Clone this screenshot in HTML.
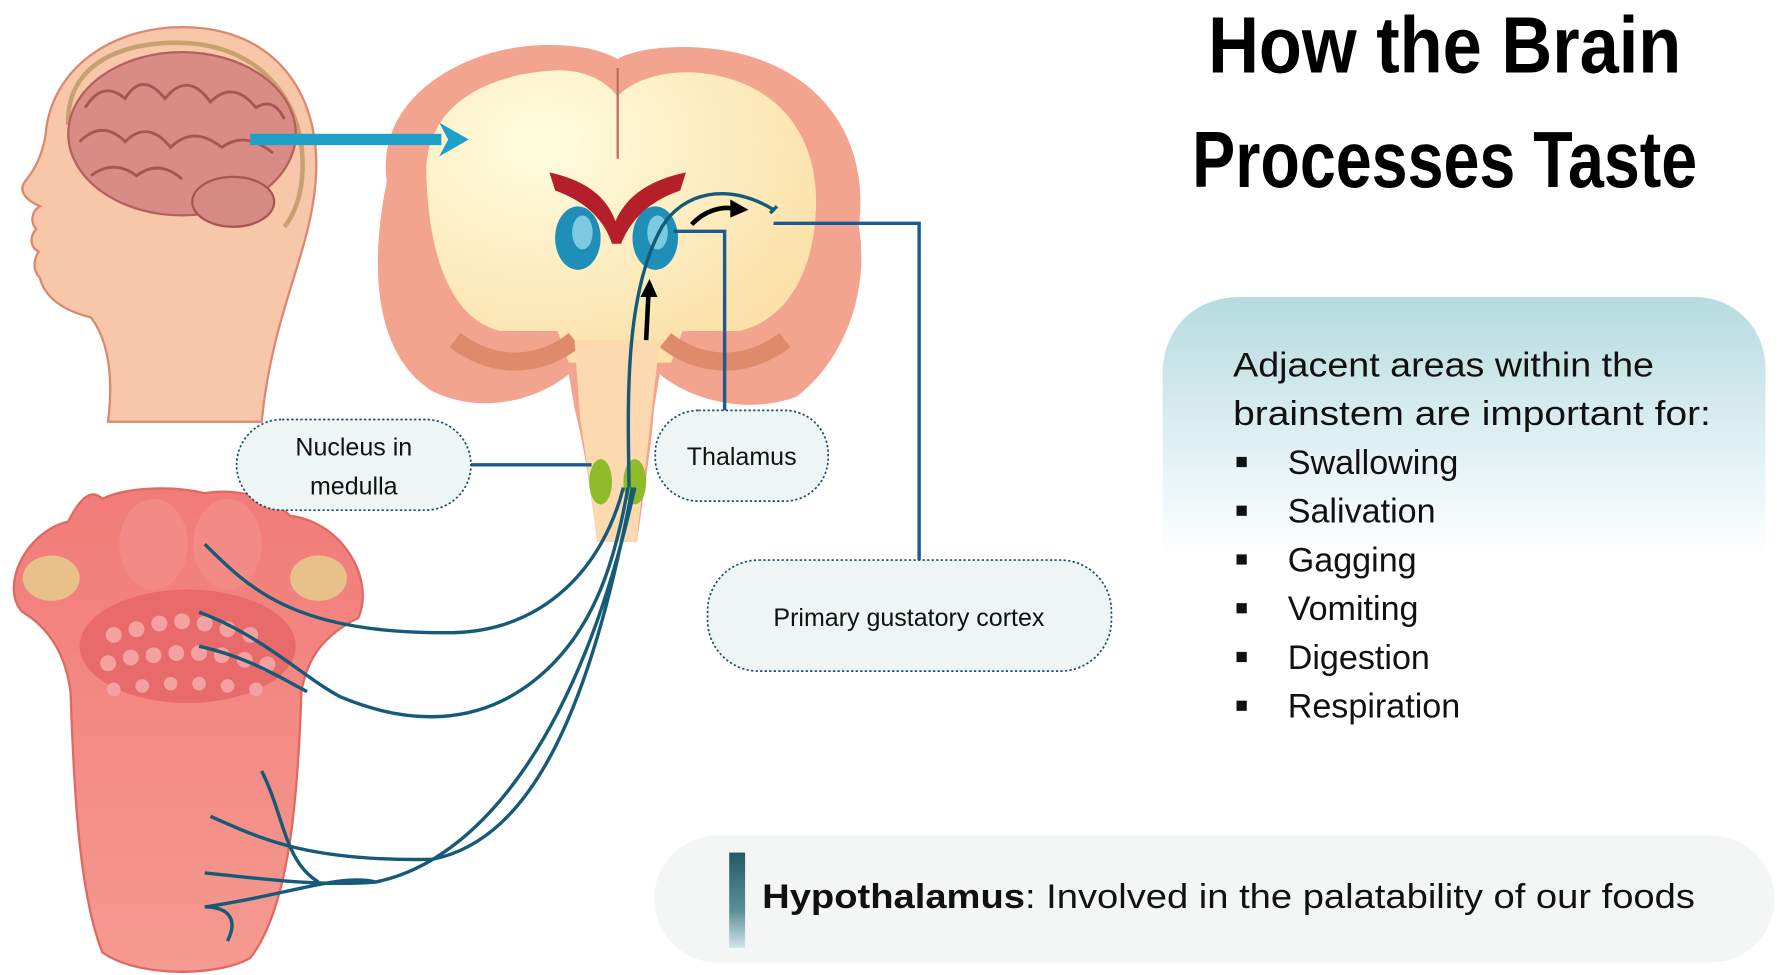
<!DOCTYPE html>
<html><head><meta charset="utf-8"><style>
html,body{margin:0;padding:0;background:#fff;}
svg{display:block}
</style></head><body>
<svg width="1778" height="975" viewBox="0 0 1563 860" preserveAspectRatio="none" xmlns="http://www.w3.org/2000/svg">
<defs>
<linearGradient id="box" x1="0" y1="0" x2="0" y2="1">
<stop offset="0" stop-color="#b6dbe0"/><stop offset="0.55" stop-color="#dff0f2"/><stop offset="1" stop-color="#ffffff"/>
</linearGradient>
<linearGradient id="bar" x1="0" y1="0" x2="0" y2="1">
<stop offset="0" stop-color="#245a66"/><stop offset="0.6" stop-color="#5a8f99"/><stop offset="1" stop-color="#d0e4e8"/>
</linearGradient>
<radialGradient id="core" cx="0.3" cy="0.25" r="0.8">
<stop offset="0" stop-color="#fffde0"/><stop offset="1" stop-color="#fbe0a8"/>
</radialGradient>
<linearGradient id="tong" x1="0" y1="0" x2="0" y2="1">
<stop offset="0" stop-color="#f27b78"/><stop offset="1" stop-color="#f59a90"/>
</linearGradient>
</defs>

<!-- Head -->
<path d="M95,372 C100,330 95,300 80,280 C60,275 40,265 35,245 C28,238 30,228 34,222 C26,218 26,208 32,202 C26,196 28,186 35,182 C22,176 16,168 22,160 C30,150 36,140 40,120 C44,60 100,22 165,24 C240,26 280,80 278,150 C276,220 240,270 230,372 Z" fill="#f8c6a8" stroke="#d9896f" stroke-width="2"/>
<path d="M60,110 C58,55 110,35 165,38 C230,42 268,90 266,150 C265,175 258,190 250,200" fill="none" stroke="#c9a070" stroke-width="4"/>
<ellipse cx="160" cy="118" rx="100" ry="72" fill="#d98b86" stroke="#b4615e" stroke-width="2"/>
<path d="M75,95 q15,-25 35,-8 q15,-25 35,0 q20,-25 40,3 q20,-20 40,5 q15,-10 25,10 M70,125 q20,-20 40,0 q20,-20 40,5 q20,-20 45,0 q20,-15 45,5 M80,155 q20,-15 40,0 q20,-15 40,3" fill="none" stroke="#a75552" stroke-width="2.5"/>
<ellipse cx="205" cy="178" rx="36" ry="22" fill="#d58a84" stroke="#a75552" stroke-width="2"/>

<!-- Coronal brain -->
<path d="M340,160 C330,90 400,45 470,40 C510,38 530,45 543,52 C560,42 600,38 640,45 C720,60 765,120 755,200 C765,260 740,320 700,350 C660,365 610,355 580,330 L575,360 C572,400 565,440 560,478 L525,478 C520,440 515,400 505,360 L500,330 C470,355 420,365 380,345 C340,320 320,260 340,160 Z" fill="#f2a48e"/>
<path d="M375,160 C370,95 425,65 490,62 C520,62 535,75 543,85 C555,72 580,62 612,64 C682,70 722,118 717,190 C714,240 692,282 650,292 L600,292 L590,320 L500,320 L490,292 L440,292 C398,282 378,230 375,160 Z" fill="url(#core)"/>
<path d="M400,300 C440,330 480,320 505,300 M585,300 C610,320 650,330 690,300" fill="none" stroke="#e08a6c" stroke-width="16"/>
<path d="M505,300 L580,300 L572,370 C568,410 562,450 560,478 L525,478 C520,440 515,400 510,370 Z" fill="#fcd9ae"/>
<path d="M483,152 C510,158 532,170 541,195 C552,170 575,158 603,152 L598,168 C575,176 556,190 546,215 L538,215 C530,190 510,176 488,168 Z" fill="#b51f2a"/>
<line x1="543" y1="60" x2="543" y2="140" stroke="#c46a5e" stroke-width="2"/>
<ellipse cx="508" cy="210" rx="20" ry="28" fill="#1f8fb8"/><ellipse cx="512" cy="205" rx="9" ry="15" fill="#7cc9e0"/>
<ellipse cx="576" cy="210" rx="20" ry="28" fill="#1f8fb8"/><ellipse cx="578" cy="205" rx="9" ry="15" fill="#7cc9e0"/>
<ellipse cx="528" cy="425" rx="10" ry="20" fill="#8dbb2a"/>
<ellipse cx="558" cy="425" rx="10" ry="20" fill="#8dbb2a"/>

<!-- blue arrow (on top) -->
<rect x="220" y="118" width="168" height="10" fill="#1ea0c8"/>
<polygon points="386,108 412,123 386,138 394,123" fill="#1ea0c8"/>

<!-- black arrows -->
<path d="M568,300 L570,260" stroke="#000" stroke-width="4" fill="none"/><polygon points="563,262 571,246 578,262" fill="#000"/>
<path d="M608,198 C620,185 635,182 645,184" stroke="#000" stroke-width="4" fill="none"/><polygon points="642,176 658,185 642,192" fill="#000"/>
<path d="M553,430 C552,360 548,260 582,200 C600,170 640,160 680,185" fill="none" stroke="#155a78" stroke-width="3"/>
<path d="M677,188 L683,182" stroke="#155a78" stroke-width="3"/>

<!-- Tongue -->
<path d="M20,540 C0,520 20,470 60,460 C70,440 80,430 90,440 C110,430 150,428 180,435 C210,430 240,440 255,455 C300,460 330,510 315,545 C285,560 270,580 265,610 C262,700 255,800 220,845 C190,862 120,862 90,840 C70,790 65,700 62,610 C58,580 45,555 20,540 Z" fill="url(#tong)" stroke="#e06862" stroke-width="2"/>
<ellipse cx="165" cy="570" rx="95" ry="50" fill="#e86a6a"/>
<ellipse cx="135" cy="480" rx="30" ry="40" fill="#f48a86"/><ellipse cx="200" cy="480" rx="30" ry="40" fill="#f48a86"/>
<ellipse cx="45" cy="510" rx="25" ry="20" fill="#e8c08a"/><ellipse cx="280" cy="510" rx="25" ry="20" fill="#e8c08a"/>
<g fill="#f4a2a0">
<circle cx="100" cy="560" r="7"/><circle cx="120" cy="555" r="7"/><circle cx="140" cy="550" r="7"/><circle cx="160" cy="548" r="7"/><circle cx="180" cy="550" r="7"/><circle cx="200" cy="555" r="7"/><circle cx="220" cy="560" r="7"/>
<circle cx="95" cy="585" r="7"/><circle cx="115" cy="580" r="7"/><circle cx="135" cy="578" r="7"/><circle cx="155" cy="576" r="7"/><circle cx="175" cy="576" r="7"/><circle cx="195" cy="578" r="7"/><circle cx="215" cy="582" r="7"/><circle cx="235" cy="586" r="7"/>
<circle cx="100" cy="608" r="6"/><circle cx="125" cy="605" r="6"/><circle cx="150" cy="603" r="6"/><circle cx="175" cy="603" r="6"/><circle cx="200" cy="605" r="6"/><circle cx="225" cy="608" r="6"/>
</g>
<g fill="none" stroke="#155a78" stroke-width="3">
<path d="M180,480 C220,520 260,560 400,558 C480,555 530,500 548,430"/>
<path d="M175,540 C230,560 270,600 300,615 C360,640 420,640 470,600 C520,560 540,500 552,430"/>
<path d="M175,570 C220,580 250,600 270,610"/>
<path d="M185,720 C230,740 270,760 380,758 C470,740 520,620 556,430"/>
<path d="M180,770 C230,775 280,782 330,778 C420,760 510,650 558,430"/>
<path d="M180,800 C250,790 300,770 330,778"/>
<path d="M230,680 C250,720 250,760 280,778"/>
<path d="M200,830 C210,810 200,800 180,800"/>
</g>

<!-- connector lines -->
<g fill="none" stroke="#1d5a92" stroke-width="3">
<path d="M414,410 L520,410"/>
<path d="M637,362 L637,204 L592,204"/>
<path d="M808,494 L808,197 L680,197"/>
</g>

<g fill="#eef5f5" stroke="#1d4f63" stroke-width="1.5" stroke-dasharray="2,2">
<rect x="208" y="370" width="206" height="80" rx="40"/>
<rect x="576" y="362" width="152" height="80" rx="38"/>
<rect x="622" y="494" width="355" height="98" rx="45"/>
</g>
<g font-family="Liberation Sans, sans-serif" font-size="22" fill="#111" text-anchor="middle">
<text x="311" y="402">Nucleus in</text>
<text x="311" y="436">medulla</text>
<text x="652" y="410">Thalamus</text>
<text x="799" y="552">Primary gustatory cortex</text>
</g>

<g font-family="Liberation Sans, sans-serif" font-weight="bold" font-size="70" fill="#000">
<text x="1062" y="64" textLength="416" lengthAdjust="spacingAndGlyphs">How the Brain</text>
<text x="1048" y="165" textLength="444" lengthAdjust="spacingAndGlyphs">Processes Taste</text>
</g>

<path d="M1022,330 C1022,290 1050,262 1090,262 L1490,262 C1525,262 1552,290 1552,325 L1552,492 L1022,492 Z" fill="url(#box)"/>
<g font-family="Liberation Sans, sans-serif" font-size="30" fill="#111">
<text x="1084" y="332" textLength="370" lengthAdjust="spacingAndGlyphs">Adjacent areas within the</text>
<text x="1084" y="375" textLength="420" lengthAdjust="spacingAndGlyphs">brainstem are important for:</text>
<text x="1132" y="418">Swallowing</text>
<text x="1132" y="461">Salivation</text>
<text x="1132" y="504">Gagging</text>
<text x="1132" y="547">Vomiting</text>
<text x="1132" y="590">Digestion</text>
<text x="1132" y="633">Respiration</text>
</g>
<g fill="#111">
<rect x="1087" y="403" width="9" height="9"/><rect x="1087" y="446" width="9" height="9"/><rect x="1087" y="489" width="9" height="9"/><rect x="1087" y="532" width="9" height="9"/><rect x="1087" y="575" width="9" height="9"/><rect x="1087" y="618" width="9" height="9"/>
</g>

<rect x="575" y="737" width="985" height="112" rx="56" fill="#f4f5f5"/>
<rect x="641" y="752" width="14" height="84" fill="url(#bar)"/>
<text x="670" y="801" font-family="Liberation Sans, sans-serif" font-size="30" fill="#111" textLength="820" lengthAdjust="spacingAndGlyphs"><tspan font-weight="bold">Hypothalamus</tspan>: Involved in the palatability of our foods</text>
</svg>
</body></html>
